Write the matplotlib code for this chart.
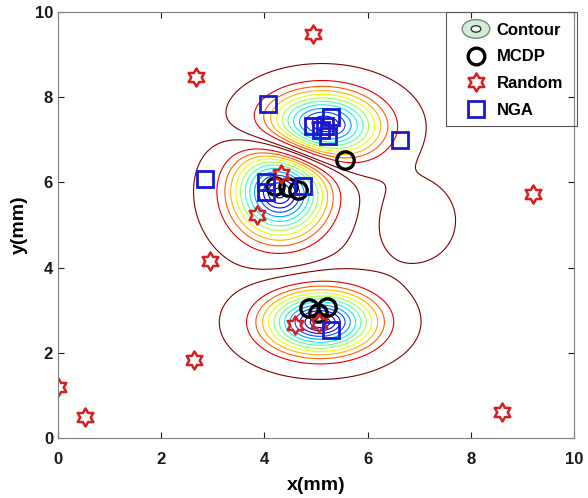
import numpy as np
import matplotlib.pyplot as plt
from matplotlib.path import Path
from matplotlib.patches import Ellipse, Rectangle
from matplotlib.legend_handler import HandlerBase
from matplotlib.lines import Line2D
from matplotlib.colors import Normalize

plt.rcParams['font.family'] = ['Liberation Sans', 'DejaVu Sans']
plt.rcParams['font.weight'] = 'bold'

# contour field: upper, middle (opposite sign), lower peak and a small side lobe
peak_x = [5.1, 4.3, 5.08]
peak_y = [7.32, 5.8, 2.72]
peak_sx = [0.8, 0.66, 0.77]
peak_sy = [0.58, 0.8, 0.53]
peak_sign = [1, -1, 1]
lobe_x, lobe_y, lobe_sx, lobe_sy, lobe_amp = 6.92, 5.1, 0.58, 0.72, 0.1
levels = [0.04, 0.18, 0.27, 0.35, 0.43, 0.51, 0.59, 0.67, 0.75, 0.82, 0.88, 0.93, 0.97]

# markers
mcdp_x = [5.57, 4.2, 4.46, 4.65, 4.87, 5.21, 5.03]
mcdp_y = [6.53, 5.92, 5.9, 5.82, 3.04, 3.08, 2.93]

rand_x = [4.94, 2.67, 9.2, 3.86, 4.33, 2.94, 4.6, 5.05, 2.63, 0.0, 0.52, 8.6]
rand_y = [9.48, 8.47, 5.73, 5.23, 6.2, 4.15, 2.65, 2.69, 1.83, 1.2, 0.5, 0.6]

nga_x = [4.07, 4.94, 5.29, 5.10, 5.23, 5.18, 6.62, 2.84, 4.04, 4.04, 4.75, 5.29]
nga_y = [7.83, 7.33, 7.54, 7.22, 7.08, 7.32, 7.0, 6.08, 6.02, 5.78, 5.92, 2.53]

xx, yy = np.meshgrid(np.linspace(0, 10, 500), np.linspace(0, 10, 500))
f = lobe_amp * np.exp(-((xx - lobe_x)**2 / (2 * lobe_sx**2) + (yy - lobe_y)**2 / (2 * lobe_sy**2)))
for cx, cy, sx, sy, sg in zip(peak_x, peak_y, peak_sx, peak_sy, peak_sign):
    f = f + sg * np.exp(-((xx - cx)**2 / (2 * sx**2) + (yy - cy)**2 / (2 * sy**2)))
f = np.abs(f)

# six pointed star (MATLAB hexagram)
ang = np.radians(np.arange(12) * 30 + 90)
rad = np.where(np.arange(12) % 2 == 0, 1.0, 0.58)
hexagram = Path(np.column_stack([rad * np.cos(ang), rad * np.sin(ang)]).tolist() + [[0, 1]], closed=True)


class HandlerContour(HandlerBase):
    def create_artists(self, legend, orig, xd, yd, w, h, fs, trans):
        cx, cy = xd + w / 2, yd + h / 2
        e1 = Ellipse((cx, cy), w * 0.72, h * 1.6, facecolor='#d5ecd8', edgecolor='#6f8f78', lw=1, transform=trans)
        e2 = Ellipse((cx, cy), w * 0.25, h * 0.55, facecolor='#f4faf4', edgecolor='#333333', lw=1, transform=trans)
        return [e1, e2]


fig = plt.figure(figsize=(5.88, 4.98), dpi=100)
ax = fig.add_axes([0.0986, 0.1205, 0.8775, 0.8555])

ax.contour(xx, yy, f, levels=levels, cmap='jet_r', norm=Normalize(0.1, 1.0), linewidths=0.8)

ax.plot(mcdp_x, mcdp_y, 'o', ms=12.5, mfc='none', mec='black', mew=2.4, ls='none')
ax.plot(rand_x, rand_y, marker=hexagram, ms=13, mfc='none', mec='#d42020', mew=1.8, ls='none')
ax.plot(nga_x, nga_y, 's', ms=11, mfc='none', mec='#1a1acc', mew=2, ls='none')

ax.set_xlim(0, 10)
ax.set_ylim(0, 10)
ax.set_xticks([0, 2, 4, 6, 8, 10])
ax.set_yticks([0, 2, 4, 6, 8, 10])
ax.tick_params(direction='in', top=True, right=True, labelsize=12, colors='#1a1a1a', length=4)
ax.tick_params(axis='x', pad=10)
for s in ax.spines.values():
    s.set_color('#808080')
ax.set_xlabel('x(mm)', fontsize=14, fontweight='bold', labelpad=7)
ax.set_ylabel('y(mm)', fontsize=14, fontweight='bold', labelpad=5)

h_cont = Line2D([], [])
h_mcdp = Line2D([], [], marker='o', ms=12, mfc='none', mec='black', mew=2.4, ls='none')
h_rand = Line2D([], [], marker=hexagram, ms=13, mfc='none', mec='#d42020', mew=1.8, ls='none')
h_nga = Line2D([], [], marker='s', ms=11, mfc='none', mec='#1a1acc', mew=2, ls='none')
ax.legend([h_cont, h_mcdp, h_rand, h_nga], ['Contour', 'MCDP', 'Random', 'NGA'],
          handler_map={h_cont: HandlerContour()}, loc='upper left', bbox_to_anchor=(0.752, 1.0),
          fontsize=12, frameon=False, handlelength=2.3, handletextpad=0.1,
          labelspacing=0.7, borderpad=0.65, borderaxespad=0)
ax.add_patch(Rectangle((0.752, 0.732), 0.254, 0.268, transform=ax.transAxes, fill=False,
                       edgecolor='#555555', lw=0.8, clip_on=False, zorder=5))

fig.savefig('out.png', dpi=100)
